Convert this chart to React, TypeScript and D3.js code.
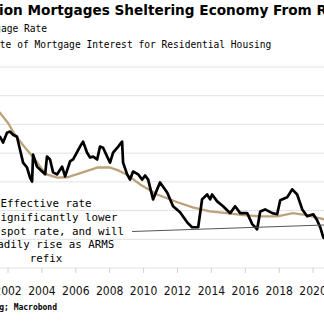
import React from "react";
import * as d3 from "d3";

const W = 324;
const H = 324;

const xTicks = [2002, 2004, 2006, 2008, 2010, 2012, 2014, 2016, 2018, 2020];
const yGrid = [2, 3, 4, 5, 6, 7, 8, 9];

const effYears = [2000.5, 2001.0, 2001.5, 2002.0, 2002.4, 2003.0, 2003.5, 2004.0, 2004.3, 2004.9, 2005.5, 2006.4, 2007.3, 2008.0, 2008.5, 2009.0, 2009.8, 2010.8, 2012.0, 2012.9, 2013.9, 2014.9, 2015.9, 2016.9, 2017.9, 2018.8, 2019.6, 2020.6, 2021.0];
const effValues = [7.9, 7.7, 7.42, 7.05, 6.65, 6.2, 5.85, 5.45, 5.26, 5.15, 5.16, 5.33, 5.5, 5.5, 5.4, 5.26, 4.91, 4.56, 4.29, 4.11, 3.97, 3.91, 3.84, 3.8, 3.8, 3.91, 3.84, 3.7, 3.6];

const spotYears = [2001.23, 2001.53, 2001.71, 2001.94, 2002.12, 2002.3, 2002.53, 2002.71, 2002.89, 2003.12, 2003.3, 2003.42, 2003.48, 2003.71, 2003.89, 2004.19, 2004.3, 2004.48, 2004.66, 2004.89, 2005.19, 2005.37, 2005.66, 2005.84, 2006.25, 2006.43, 2006.66, 2006.84, 2007.02, 2007.26, 2007.43, 2007.61, 2007.85, 2008.02, 2008.2, 2008.5, 2008.73, 2008.79, 2009.03, 2009.2, 2009.38, 2009.68, 2009.91, 2010.09, 2010.27, 2010.38, 2010.56, 2010.8, 2010.97, 2011.39, 2011.74, 2012.15, 2012.57, 2012.86, 2013.22, 2013.45, 2013.75, 2013.93, 2014.04, 2014.34, 2014.69, 2015.11, 2015.4, 2015.7, 2016.11, 2016.41, 2016.7, 2016.88, 2017.17, 2017.59, 2017.88, 2018.06, 2018.47, 2018.77, 2019.06, 2019.36, 2019.65, 2020.01, 2020.24, 2020.42, 2020.6, 2020.77];
const spotValues = [6.54, 6.57, 6.37, 6.71, 6.75, 6.64, 6.57, 6.12, 5.67, 5.5, 5.15, 5.01, 5.95, 5.53, 5.43, 5.26, 5.88, 5.78, 5.33, 5.26, 5.53, 5.19, 5.71, 5.78, 6.23, 6.4, 6.02, 5.85, 5.88, 5.78, 6.23, 6.19, 5.88, 5.67, 6.02, 6.23, 6.4, 5.67, 5.26, 5.08, 5.36, 5.26, 5.08, 5.22, 5.08, 4.81, 4.39, 4.74, 4.98, 4.63, 4.15, 3.94, 3.59, 3.42, 3.42, 4.39, 4.56, 4.39, 4.56, 4.32, 4.15, 3.91, 4.15, 3.91, 3.91, 3.53, 3.35, 3.97, 4.04, 3.91, 3.87, 4.36, 4.46, 4.74, 4.56, 4.04, 3.8, 3.87, 3.66, 3.42, 3.07, 3.0];

const annotationLines = ["Effective rate", "is significantly lower", "than spot rate, and will", "steadily rise as ARMS", "refix"];
const annotationArrowYears = [2009.32, 2020.66];
const annotationArrowValues = [3.27, 3.5];

export default function App() {
  const x = d3.scaleLinear().domain([2000, 2002]).range([-25.9, 8]);
  const y = d3.scaleLinear().domain([2, 9]).range([268, 67]);

  const line = d3
    .line<[number, number]>()
    .x((d) => x(d[0]))
    .y((d) => y(d[1]));

  const effData = effYears.map((yr, i) => [yr, effValues[i]] as [number, number]);
  const spotData = spotYears.map((yr, i) => [yr, spotValues[i]] as [number, number]);
  const arrowData = annotationArrowYears.map((yr, i) => [yr, annotationArrowValues[i]] as [number, number]);

  const mono = "'DejaVu Sans Mono', monospace";
  const axisFont = "'DejaVu Sans Condensed', 'DejaVu Sans', sans-serif";

  return (
    <svg
      width={W}
      height={H}
      style={{ position: "absolute", left: 0, top: 0, background: "#fff" }}
    >
      <rect x={0} y={0} width={W} height={H} fill="#fff" />
      <text
        x={-1}
        y={15}
        fontFamily="'DejaVu Sans', sans-serif"
        fontWeight="bold"
        fontSize={14}
        fill="#000"
        textLength={328}
        lengthAdjust="spacingAndGlyphs"
      >
        ion Mortgages Sheltering Economy From R
      </text>
      <text x={-28} y={32} fontFamily={mono} fontSize={9.6} fill="#000">
        Mortgage Rate
      </text>
      <text x={-69.5} y={47.5} fontFamily={mono} fontSize={9.6} fill="#000">
        Effective Rate of Mortgage Interest for Residential Housing
      </text>

      {yGrid.map((g) => (
        <line key={g} x1={0} x2={W} y1={y(g)} y2={y(g)} stroke="#e2e2e2" strokeWidth={1} />
      ))}
      {xTicks.map((t) => (
        <g key={t}>
          <line x1={x(t)} x2={x(t)} y1={y(2)} y2={y(2) + 5} stroke="#d0d0d0" strokeWidth={1} />
          <text
            x={x(t)}
            y={295}
            textAnchor="middle"
            fontFamily={axisFont}
            fontSize={12}
            fill="#111"
          >
            {t}
          </text>
        </g>
      ))}

      <path d={line(effData) || ""} fill="none" stroke="#bca27a" strokeWidth={2.3} />
      <path d={line(spotData) || ""} fill="none" stroke="#000" strokeWidth={2.7} strokeLinejoin="round" />

      <path d={line(arrowData) || ""} fill="none" stroke="#555" strokeWidth={1.1} />
      {annotationLines.map((l, i) => (
        <text
          key={i}
          x={46}
          y={207 + i * 13.8}
          textAnchor="middle"
          fontFamily={mono}
          fontSize={10.8}
          fill="#000"
        >
          {l}
        </text>
      ))}

      <text
        x={57}
        y={310}
        textAnchor="end"
        fontFamily={mono}
        fontWeight="bold"
        fontSize={8}
        fill="#000"
      >
        Source: Bloomberg; Macrobond
      </text>
    </svg>
  );
}
